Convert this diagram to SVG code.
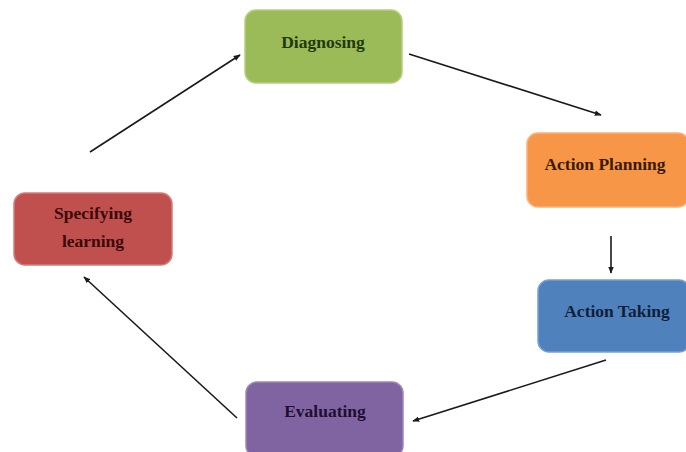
<svg xmlns="http://www.w3.org/2000/svg" width="686" height="452" viewBox="0 0 686 452">
<style>
.box{stroke-width:1.5}
.t{font-family:"Liberation Serif","Times New Roman",serif;font-weight:bold;font-size:17.5px;text-anchor:middle;dominant-baseline:central}
.c{stroke:#1a1a1a;stroke-width:1.6;fill:none;marker-end:url(#ah)}
</style>
<defs>
<marker id="ah" viewBox="0 0 10 10" refX="9" refY="5" markerWidth="7" markerHeight="7" orient="auto" markerUnits="userSpaceOnUse">
<path d="M0,1 L10,5 L0,9 z" fill="#1a1a1a"/>
</marker>
</defs>
<rect width="686" height="452" fill="#ffffff"/>
<g id="connectors">
<line class="c" x1="90" y1="152" x2="240" y2="55"/>
<line class="c" x1="409" y1="54" x2="601" y2="115"/>
<line class="c" x1="611" y1="236" x2="611" y2="273"/>
<line class="c" x1="606" y1="360" x2="413" y2="421"/>
<line class="c" x1="237" y1="418" x2="84" y2="277"/>
</g>
<g id="diagnosing">
<rect class="box" x="245" y="10" width="157" height="73" rx="11" fill="#9BBB59" stroke="#B5CF7E"/>
<text class="t" x="323" y="42" fill="#1F3A0A">Diagnosing</text>
</g>
<g id="action-planning">
<rect class="box" x="527" y="133" width="162" height="74" rx="11" fill="#F79646" stroke="#F9B27A"/>
<text class="t" x="605" y="164" fill="#3A1A05">Action Planning</text>
</g>
<g id="action-taking">
<rect class="box" x="538" y="280" width="152" height="72" rx="11" fill="#4F81BD" stroke="#7A9FD0"/>
<text class="t" x="617" y="311" fill="#0F1F3A">Action Taking</text>
</g>
<g id="evaluating">
<rect class="box" x="246" y="382" width="157" height="75" rx="11" fill="#8064A2" stroke="#9D86BA"/>
<text class="t" x="325" y="411" fill="#1E0F30">Evaluating</text>
</g>
<g id="specifying-learning">
<rect class="box" x="14" y="193" width="158" height="72" rx="11" fill="#C0504D" stroke="#D27C79"/>
<text class="t" x="93" y="213" fill="#3A0A0A">Specifying</text>
<text class="t" x="93" y="241" fill="#3A0A0A">learning</text>
</g>
</svg>
